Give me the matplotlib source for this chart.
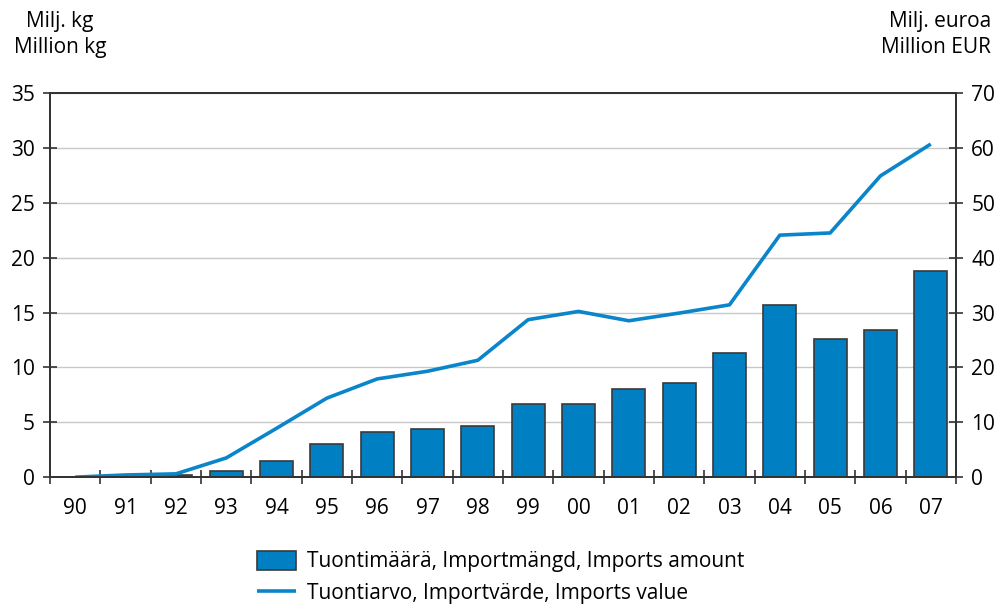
import matplotlib.pyplot as plt
import numpy as np

plt.rcParams['font.family'] = ['Open Sans', 'DejaVu Sans']

# Years (two-digit labels)
years = ['90', '91', '92', '93', '94', '95', '96', '97', '98', '99',
         '00', '01', '02', '03', '04', '05', '06', '07']
# Imports amount, million kg (left axis)
amount = [0.0, 0.05, 0.2, 0.55, 1.45, 3.05, 4.1, 4.4, 4.65, 6.7,
          6.65, 8.05, 8.6, 11.3, 15.65, 12.6, 13.4, 18.8]
# Imports value, million EUR (right axis)
value = [0.0, 0.4, 0.6, 3.5, 8.9, 14.4, 17.9, 19.3, 21.3, 28.7,
         30.2, 28.5, 29.9, 31.4, 44.1, 44.5, 54.9, 60.7]

bar_color = '#0080C3'
line_color = '#0A85CA'
spine_color = '#333333'
fs = 15

x = np.arange(len(years))

fig = plt.figure(figsize=(10.01, 6.04), dpi=100)
ax = fig.add_axes([0.05, 0.21, 0.905, 0.636])
ax2 = ax.twinx()

ax.bar(x, amount, width=0.66, color=bar_color, edgecolor='#3a3a3a', linewidth=1.2,
       zorder=2, label='Tuontimäärä, Importmängd, Imports amount')
ax2.plot(x, value, color=line_color, linewidth=2.6, solid_capstyle='butt',
         label='Tuontiarvo, Importvärde, Imports value')

ax.set_xlim(-0.5, len(years) - 0.5)
ax.set_ylim(0, 35)
ax2.set_ylim(0, 70)
ax.set_yticks(np.arange(0, 36, 5))
ax2.set_yticks(np.arange(0, 71, 10))

ax.yaxis.grid(True, color='#c8c8c8', linewidth=1.0, zorder=0)
ax.set_axisbelow(True)

# year labels at centres, tick marks at category boundaries
ax.set_xticks(x)
ax.set_xticklabels(years)
ax.set_xticks(np.arange(-0.5, len(years)), minor=True)
ax.tick_params(axis='x', which='major', length=0, pad=15, labelsize=fs)
ax.tick_params(axis='x', which='minor', length=10, direction='inout',
               width=1.2, color=spine_color)
ax.tick_params(axis='y', length=10, direction='inout', width=1.2,
               color=spine_color, labelsize=fs, pad=6)
ax2.tick_params(axis='y', length=10, direction='inout', width=1.2,
                color=spine_color, labelsize=fs, pad=6)

for a in (ax, ax2):
    for s in a.spines.values():
        s.set_color(spine_color)
        s.set_linewidth(1.4)

fig.text(0.06, 0.965, 'Milj. kg', ha='center', va='center', fontsize=fs)
fig.text(0.06, 0.922, 'Million kg', ha='center', va='center', fontsize=fs)
fig.text(0.99, 0.965, 'Milj. euroa', ha='right', va='center', fontsize=fs)
fig.text(0.99, 0.922, 'Million EUR', ha='right', va='center', fontsize=fs)

h1, l1 = ax.get_legend_handles_labels()
h2, l2 = ax2.get_legend_handles_labels()
fig.legend(h1 + h2, l1 + l2, loc='upper left', bbox_to_anchor=(0.246, 0.105),
           frameon=False, fontsize=fs, handlelength=1.9, handleheight=1.0,
           labelspacing=0.5, handletextpad=0.5, borderpad=0)

fig.savefig('out.png', dpi=100)
